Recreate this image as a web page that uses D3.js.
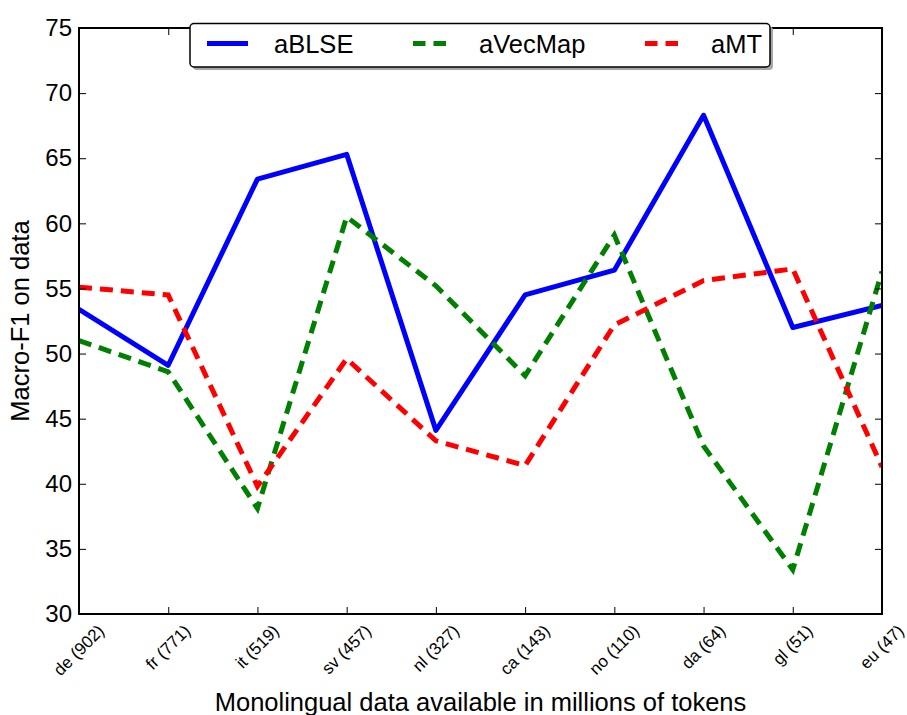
<!DOCTYPE html>
<html>
<head>
<meta charset="utf-8">
<script src="https://cdn.jsdelivr.net/npm/d3@7"></script>
<style>
  html, body { margin: 0; padding: 0; background: #fff; }
  svg { display: block; font-family: "Liberation Sans", Arial, sans-serif; }
</style>
</head>
<body>
<svg id="chart" width="907" height="715"></svg>
<script>
// Languages with monolingual corpus size (millions of tokens)
const languages = ["de (902)", "fr (771)", "it (519)", "sv (457)", "nl (327)",
                   "ca (143)", "no (110)", "da (64)", "gl (51)", "eu (47)"];

// Macro-F1 per language for each system
const aBLSE   = [53.4, 49.1, 63.4, 65.3, 44.1, 54.5, 56.4, 68.3, 52.0, 53.7];
const aVecMap = [51.0, 48.6, 38.1, 60.5, 55.2, 48.3, 59.1, 42.9, 33.4, 56.3];
const aMT     = [55.1, 54.5, 39.8, 49.6, 43.3, 41.4, 52.2, 55.6, 56.5, 41.3];

const yTicks = [30, 35, 40, 45, 50, 55, 60, 65, 70, 75];

const series = [
  { name: "aBLSE",   values: aBLSE,   color: "#0000ff", dash: null },
  { name: "aVecMap", values: aVecMap, color: "#008000", dash: "13,8" },
  { name: "aMT",     values: aMT,     color: "#ff0000", dash: "13,8" }
];

const svg = d3.select("#chart");
const plotLeft = 79, plotRight = 882, plotTop = 28, plotBottom = 614;

const x = d3.scalePoint().domain(languages).range([plotLeft, plotRight]).padding(0);
const y = d3.scaleLinear().domain([30, 75]).range([plotBottom, plotTop]);

// clip lines to the axes box
svg.append("clipPath").attr("id", "plotclip")
  .append("rect").attr("x", plotLeft).attr("y", plotTop)
  .attr("width", plotRight - plotLeft).attr("height", plotBottom - plotTop);

const line = d3.line()
  .x((d, i) => x(languages[i]))
  .y(d => y(d));

const plot = svg.append("g").attr("clip-path", "url(#plotclip)");
series.forEach(s => {
  plot.append("path")
    .datum(s.values)
    .attr("d", line)
    .attr("fill", "none")
    .attr("stroke", s.color)
    .attr("stroke-width", 5)
    .attr("stroke-linejoin", s.dash ? "miter" : "round")
    .attr("stroke-linecap", "butt")
    .attr("stroke-dasharray", s.dash);
});

// axes: inward ticks on all four sides, labels on left and bottom
const tickLen = 7;
const yAxisL = d3.axisLeft(y).tickValues(yTicks).tickSizeInner(-tickLen).tickSizeOuter(0).tickPadding(7);
const yAxisR = d3.axisRight(y).tickValues(yTicks).tickSizeInner(-tickLen).tickSizeOuter(0).tickFormat("");
const xAxisB = d3.axisBottom(x).tickSizeInner(-tickLen).tickSizeOuter(0).tickFormat("");
const xAxisT = d3.axisTop(x).tickSizeInner(-tickLen).tickSizeOuter(0).tickFormat("");

const gL = svg.append("g").attr("transform", `translate(${plotLeft},0)`).call(yAxisL);
const gR = svg.append("g").attr("transform", `translate(${plotRight},0)`).call(yAxisR);
const gB = svg.append("g").attr("transform", `translate(0,${plotBottom})`).call(xAxisB);
const gT = svg.append("g").attr("transform", `translate(0,${plotTop})`).call(xAxisT);

[gL, gR, gB, gT].forEach(g => {
  g.select(".domain").remove();
  g.selectAll(".tick line").attr("stroke", "#000").attr("stroke-width", 1);
});
gL.selectAll(".tick text")
  .attr("font-size", 24)
  .attr("fill", "#000")
  .attr("font-family", "Liberation Sans, Arial, sans-serif");

// frame
svg.append("rect")
  .attr("x", plotLeft).attr("y", plotTop)
  .attr("width", plotRight - plotLeft).attr("height", plotBottom - plotTop)
  .attr("fill", "none").attr("stroke", "#000").attr("stroke-width", 2);

// rotated category labels, centred under each tick
const labelSize = 17;
const xl = svg.append("g");
languages.forEach(lang => {
  const t = xl.append("text")
    .attr("text-anchor", "middle")
    .attr("dominant-baseline", "central")
    .attr("font-size", labelSize)
    .attr("fill", "#000")
    .text(lang);
  const w = t.node().getComputedTextLength();
  const h = (w + labelSize) * Math.SQRT1_2;
  t.attr("transform", `translate(${x(lang)},${plotBottom + 8 + h / 2}) rotate(-45)`);
});

// axis titles
svg.append("text")
  .attr("x", (plotLeft + plotRight) / 2).attr("y", 711)
  .attr("text-anchor", "middle")
  .attr("font-size", 25.5)
  .text("Monolingual data available in millions of tokens");

svg.append("text")
  .attr("transform", `translate(29,${(plotTop + plotBottom) / 2}) rotate(-90)`)
  .attr("text-anchor", "middle")
  .attr("font-size", 25.5)
  .text("Macro-F1 on data");

// legend
const legend = svg.append("g");
const lx0 = 190, ly0 = 23.5, lw = 580, lh = 43.5;
legend.append("rect")
  .attr("x", lx0 + 3).attr("y", ly0 + 3)
  .attr("width", lw).attr("height", lh)
  .attr("rx", 4).attr("fill", "#a6a6a6");
legend.append("rect")
  .attr("x", lx0).attr("y", ly0)
  .attr("width", lw).attr("height", lh)
  .attr("rx", 4).attr("fill", "#fff")
  .attr("stroke", "#000").attr("stroke-width", 1.5);

const legendX = [207, 413, 645];
const legendTextX = [274, 479, 711];
series.forEach((s, i) => {
  legend.append("line")
    .attr("x1", legendX[i]).attr("x2", legendX[i] + 41)
    .attr("y1", 43.5).attr("y2", 43.5)
    .attr("stroke", s.color).attr("stroke-width", 5)
    .attr("stroke-dasharray", s.dash ? "12.5,8" : null);
  legend.append("text")
    .attr("x", legendTextX[i]).attr("y", 53)
    .attr("font-size", 25.5)
    .text(s.name);
});
</script>
</body>
</html>
